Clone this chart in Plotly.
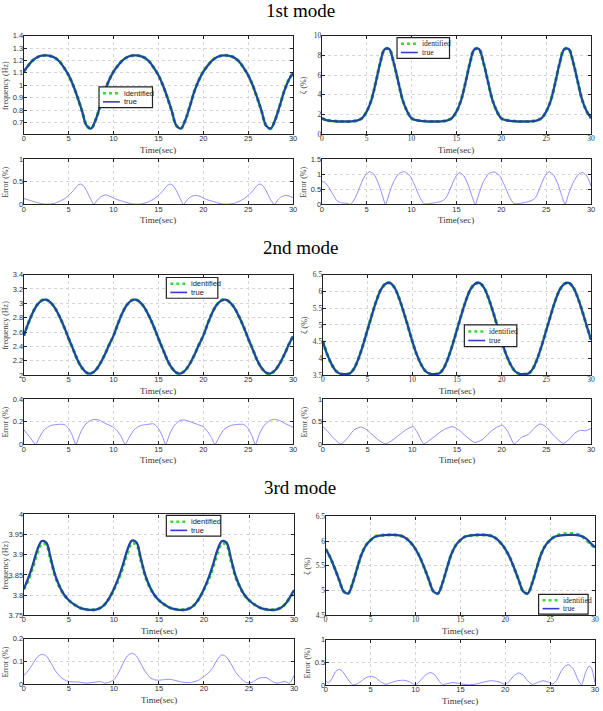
import plotly.graph_objects as go

W, H = 603, 711
TIME = [i * 0.5 for i in range(61)]

# ---------------- 1st mode ----------------
freq1_true = [1.11, 1.16, 1.20, 1.225, 1.238, 1.24, 1.235, 1.22, 1.19, 1.14,
              1.08, 1.00, 0.90, 0.79, 0.675, 0.652, 0.72, 0.83, 0.95, 1.04,
              1.11, 1.16, 1.20, 1.225, 1.238, 1.24, 1.235, 1.22, 1.19, 1.14,
              1.08, 1.00, 0.90, 0.79, 0.675, 0.652, 0.72, 0.83, 0.95, 1.04,
              1.11, 1.16, 1.20, 1.225, 1.238, 1.24, 1.235, 1.22, 1.19, 1.14,
              1.08, 1.00, 0.90, 0.79, 0.675, 0.652, 0.72, 0.83, 0.95, 1.04,
              1.10]
freq1_ident = freq1_true

zeta1_true = [1.62, 1.45, 1.37, 1.33, 1.30, 1.30, 1.30, 1.33, 1.42, 1.65,
              2.3, 3.4, 5.2, 7.2, 8.6, 8.65, 7.3, 5.4, 3.5, 2.35,
              1.62, 1.45, 1.37, 1.33, 1.30, 1.30, 1.30, 1.33, 1.42, 1.65,
              2.3, 3.4, 5.2, 7.2, 8.6, 8.65, 7.3, 5.4, 3.5, 2.35,
              1.62, 1.45, 1.37, 1.33, 1.30, 1.30, 1.30, 1.33, 1.42, 1.65,
              2.3, 3.4, 5.2, 7.2, 8.6, 8.65, 7.3, 5.4, 3.5, 2.35,
              1.65]
zeta1_ident = zeta1_true

err_f1_t = [0, 0.5, 1, 1.5, 2, 2.5, 3, 3.5, 4, 4.5, 5, 5.5, 6, 6.3, 6.6, 7, 7.4, 7.8, 8.2, 8.6, 9.1, 9.6,
            10, 10.5, 11, 11.5, 12, 12.5, 13, 13.5, 14, 14.5, 15, 15.5, 16, 16.3, 16.6, 17, 17.4, 17.8, 18.2, 18.6, 19.1, 19.6,
            20, 20.5, 21, 21.5, 22, 22.5, 23, 23.5, 24, 24.5, 25, 25.5, 26, 26.3, 26.6, 27, 27.4, 27.9, 28.3, 28.7, 29.2, 29.6, 30]
err_f1_v = [0.13, 0.10, 0.07, 0.04, 0.015, 0.005, 0.01, 0.03, 0.07, 0.12, 0.2, 0.3, 0.42, 0.45, 0.42, 0.3, 0.14, 0.0, 0.1, 0.17, 0.21, 0.18,
            0.14, 0.10, 0.07, 0.04, 0.015, 0.005, 0.01, 0.03, 0.07, 0.12, 0.2, 0.3, 0.42, 0.45, 0.42, 0.3, 0.14, 0.0, 0.1, 0.17, 0.2, 0.18,
            0.14, 0.10, 0.07, 0.04, 0.015, 0.005, 0.01, 0.03, 0.07, 0.12, 0.2, 0.3, 0.42, 0.45, 0.42, 0.3, 0.14, 0.0, 0.1, 0.17, 0.2, 0.18, 0.15]

err_z1_t = [0, 0.3, 0.7, 1.2, 1.7, 2.2, 2.8, 3.2, 3.7, 4.2, 4.7, 5.3, 5.8, 6.3, 6.7, 7.1, 7.5, 8.0, 8.6, 9.2, 9.8, 10.4, 10.9, 11.4,
            12, 12.7, 13.3, 13.8, 14.3, 14.8, 15.3, 15.8, 16.3, 16.7, 17.1, 17.5, 18.0, 18.6, 19.2, 19.8, 20.4, 20.9, 21.4,
            22, 22.7, 23.3, 23.8, 24.3, 24.8, 25.3, 25.8, 26.3, 26.7, 27.1, 27.5, 28.0, 28.6, 29.1, 29.6, 30]
err_z1_v = [0.75, 0.74, 0.6, 0.35, 0.12, 0.05, 0.04, 0.0, 0.2, 0.55, 0.9, 1.08, 1.0, 0.7, 0.35, 0.0, 0.35, 0.75, 1.02, 1.08, 0.95, 0.6, 0.25, 0.02,
            0.03, 0.06, 0.1, 0.2, 0.5, 0.85, 1.05, 0.95, 0.65, 0.3, 0.0, 0.35, 0.75, 1.02, 1.07, 0.95, 0.6, 0.25, 0.03,
            0.03, 0.07, 0.12, 0.22, 0.55, 0.9, 1.08, 0.98, 0.68, 0.32, 0.0, 0.35, 0.72, 1.0, 1.05, 0.9, 0.6]

# ---------------- 2nd mode ----------------
freq2_true = [2.55, 2.72, 2.87, 2.98, 3.04, 3.05, 3.01, 2.93, 2.81, 2.67,
              2.51, 2.36, 2.21, 2.10, 2.035, 2.025, 2.07, 2.16, 2.28, 2.42,
              2.55, 2.72, 2.87, 2.98, 3.04, 3.05, 3.01, 2.93, 2.81, 2.67,
              2.51, 2.36, 2.21, 2.10, 2.035, 2.025, 2.07, 2.16, 2.28, 2.42,
              2.55, 2.72, 2.87, 2.98, 3.04, 3.05, 3.01, 2.93, 2.81, 2.67,
              2.51, 2.36, 2.21, 2.10, 2.035, 2.025, 2.07, 2.16, 2.28, 2.42,
              2.54]
freq2_ident = freq2_true

zeta2_true = [4.52, 4.12, 3.82, 3.62, 3.54, 3.53, 3.55, 3.70, 4.0, 4.4,
              4.85, 5.3, 5.72, 6.05, 6.22, 6.25, 6.12, 5.82, 5.42, 4.98,
              4.52, 4.12, 3.82, 3.62, 3.54, 3.53, 3.55, 3.70, 4.0, 4.4,
              4.85, 5.3, 5.72, 6.05, 6.22, 6.25, 6.12, 5.82, 5.42, 4.98,
              4.52, 4.12, 3.82, 3.62, 3.54, 3.53, 3.55, 3.70, 4.0, 4.4,
              4.85, 5.3, 5.72, 6.05, 6.22, 6.25, 6.12, 5.82, 5.42, 4.98,
              4.55]
zeta2_ident = zeta2_true

err_f2_t = [0, 0.4, 0.8, 1.3, 1.8, 2.3, 3, 3.7, 4.5, 5.0, 5.4, 5.8, 6.3, 6.8, 7.4, 7.9, 8.5, 9.2, 10, 10.5, 10.9, 11.3,
            11.8, 12.3, 13, 13.7, 14.5, 15.0, 15.4, 15.8, 16.3, 16.8, 17.4, 17.9, 18.5, 19.2, 20, 20.5, 20.9, 21.3,
            21.8, 22.3, 23, 23.7, 24.5, 25.0, 25.4, 25.8, 26.3, 26.8, 27.4, 27.9, 28.5, 29.2, 30]
err_f2_v = [0.13, 0.09, 0.05, 0.0, 0.07, 0.13, 0.165, 0.175, 0.175, 0.14, 0.08, 0.0, 0.1, 0.17, 0.21, 0.22, 0.21, 0.18, 0.15, 0.11, 0.06, 0.0,
            0.07, 0.13, 0.165, 0.175, 0.18, 0.14, 0.08, 0.0, 0.1, 0.17, 0.21, 0.215, 0.2, 0.18, 0.155, 0.11, 0.06, 0.0,
            0.07, 0.13, 0.165, 0.175, 0.175, 0.14, 0.08, 0.0, 0.1, 0.17, 0.21, 0.22, 0.21, 0.18, 0.15]

err_z2_t = [0, 0.5, 1, 1.5, 2, 2.5, 3, 3.5, 4.2, 4.8, 5.5, 6.2, 7.0, 7.7, 8.5, 9.3, 10.1, 10.6, 11.3, 12, 12.8, 13.6, 14.5,
            15.2, 16, 17, 17.8, 18.6, 19.4, 20.1, 20.7, 21.4, 22.2, 23, 23.6, 24.3, 25, 25.8, 26.9, 27.6, 28.2, 28.8, 29.4, 30]
err_z2_v = [0.39, 0.3, 0.18, 0.08, 0.01, 0.08, 0.2, 0.32, 0.38, 0.34, 0.22, 0.1, 0.01, 0.08, 0.2, 0.32, 0.39, 0.25, 0.01, 0.1, 0.22, 0.33, 0.39,
            0.32, 0.18, 0.04, 0.1, 0.25, 0.37, 0.42, 0.28, 0.01, 0.15, 0.22, 0.35, 0.45, 0.38, 0.2, 0.02, 0.12, 0.25, 0.31, 0.3, 0.35]

# ---------------- 3rd mode ----------------
freq3_true = [3.815, 3.842, 3.875, 3.912, 3.934, 3.93, 3.89, 3.848, 3.82, 3.80,
              3.787, 3.778, 3.771, 3.766, 3.764, 3.763, 3.764, 3.768, 3.777, 3.793,
              3.815, 3.842, 3.875, 3.912, 3.935, 3.931, 3.89, 3.848, 3.82, 3.80,
              3.787, 3.778, 3.771, 3.766, 3.764, 3.763, 3.764, 3.768, 3.777, 3.793,
              3.815, 3.842, 3.875, 3.912, 3.934, 3.93, 3.89, 3.848, 3.82, 3.80,
              3.787, 3.778, 3.771, 3.766, 3.764, 3.763, 3.764, 3.768, 3.777, 3.793,
              3.812]
freq3_ident = [3.814, 3.838, 3.869, 3.905, 3.928, 3.925, 3.886, 3.846, 3.819, 3.80,
               3.787, 3.778, 3.771, 3.766, 3.764, 3.763, 3.764, 3.768, 3.777, 3.792,
               3.814, 3.838, 3.869, 3.905, 3.929, 3.926, 3.886, 3.846, 3.819, 3.80,
               3.787, 3.778, 3.771, 3.766, 3.764, 3.763, 3.764, 3.768, 3.777, 3.792,
               3.814, 3.838, 3.869, 3.905, 3.928, 3.925, 3.886, 3.846, 3.819, 3.80,
               3.787, 3.778, 3.771, 3.766, 3.764, 3.763, 3.764, 3.768, 3.777, 3.792,
               3.811]

zeta3_true = [5.84, 5.67, 5.45, 5.21, 4.98, 4.94, 5.15, 5.45, 5.74, 5.92,
              6.02, 6.09, 6.11, 6.12, 6.125, 6.125, 6.12, 6.10, 6.05, 5.96,
              5.84, 5.67, 5.45, 5.21, 4.98, 4.94, 5.15, 5.45, 5.74, 5.92,
              6.02, 6.09, 6.11, 6.12, 6.125, 6.125, 6.12, 6.10, 6.05, 5.96,
              5.84, 5.67, 5.45, 5.21, 4.98, 4.94, 5.15, 5.45, 5.74, 5.92,
              6.02, 6.09, 6.11, 6.12, 6.125, 6.125, 6.12, 6.10, 6.05, 5.96,
              5.87]
zeta3_ident = [5.84, 5.67, 5.45, 5.21, 4.98, 4.94, 5.15, 5.45, 5.74, 5.92,
               6.02, 6.09, 6.11, 6.12, 6.125, 6.125, 6.12, 6.10, 6.05, 5.96,
               5.84, 5.67, 5.45, 5.21, 4.98, 4.94, 5.15, 5.45, 5.74, 5.92,
               6.02, 6.09, 6.11, 6.12, 6.125, 6.125, 6.12, 6.10, 6.05, 5.96,
               5.84, 5.67, 5.45, 5.21, 4.98, 4.94, 5.15, 5.45, 5.74, 5.92,
               6.02, 6.095, 6.13, 6.145, 6.153, 6.15, 6.14, 6.10, 6.03, 5.94,
               5.87]

err_f3_t = [0, 0.5, 1, 1.5, 2, 2.5, 3, 3.5, 4, 4.5, 5, 6, 7, 8, 8.5, 9, 9.5, 10, 10.5, 11, 11.5, 12, 12.5, 13, 13.5, 14,
            14.5, 15, 15.5, 16, 16.5, 17, 17.5, 18, 18.5, 19, 19.5, 20, 20.5, 21, 21.5, 22, 22.5, 23, 23.5, 24, 24.5,
            25, 25.5, 26, 26.5, 27, 27.5, 28, 28.5, 29, 29.5, 30]
err_f3_v = [0.038, 0.06, 0.09, 0.12, 0.132, 0.125, 0.095, 0.06, 0.035, 0.02, 0.012, 0.01, 0.005, 0.01, 0.012, 0.005, 0.01, 0.02,
            0.05, 0.09, 0.125, 0.137, 0.125, 0.09, 0.055, 0.03, 0.02, 0.018, 0.02, 0.022, 0.02, 0.015, 0.01, 0.008, 0.008,
            0.012, 0.02, 0.035, 0.05, 0.075, 0.11, 0.13, 0.12, 0.09, 0.055, 0.03, 0.012, 0.005, 0.012, 0.025, 0.03, 0.028,
            0.015, 0.005, 0.008, 0.012, 0.005, 0.04]

err_z3_t = [0, 0.3, 0.7, 1.1, 1.5, 1.9, 2.4, 3.0, 3.5, 4.0, 4.5, 5.0, 5.5, 6.1, 6.7, 7.3, 8.0, 8.7, 9.3, 10.0, 10.6, 11.2,
            11.7, 12.2, 12.6, 13.0, 13.6, 14.2, 14.8, 15.4, 16.0, 16.8, 17.6, 18.4, 19.2, 20.0, 20.5, 21.0, 21.5, 22.0,
            22.5, 23.0, 23.6, 24.2, 24.8, 25.3, 25.7, 26.2, 26.7, 27.1, 27.6, 28.1, 28.5, 28.9, 29.3, 29.6, 30]
err_z3_v = [0.1, 0.05, 0.15, 0.3, 0.35, 0.3, 0.15, 0.01, 0.03, 0.1, 0.17, 0.2, 0.17, 0.08, 0.02, 0.06, 0.1, 0.11, 0.08, 0.01,
            0.12, 0.24, 0.28, 0.22, 0.1, 0.02, 0.04, 0.06, 0.04, 0.02, 0.01, 0.03, 0.07, 0.1, 0.08, 0.02, 0.1, 0.22, 0.27,
            0.22, 0.1, 0.02, 0.06, 0.1, 0.07, 0.03, 0.1, 0.3, 0.43, 0.45, 0.35, 0.12, 0.01, 0.25, 0.42, 0.38, 0.05]

TITLES = ["1st mode", "2nd mode", "3rd mode"]
LEGEND_NAMES = ["identified", "true"]
X_TICKS = [0, 5, 10, 15, 20, 25, 30]

SANS = "Liberation Sans, Arial"
SERIF = "Liberation Serif, Times New Roman"
IDENT_COLOR = "#33dd33"
TRUE_COLOR = "#1f45a0"
LEG_TRUE_COLOR = "#3a3ad0"
ERR_COLOR = "#8080ff"

panels = [
    dict(box=(22, 294, 32, 132), rng=[0.605, 1.4], ticks=[0.7, 0.8, 0.9, 1, 1.1, 1.2, 1.3, 1.4],
         title="frequency (Hz)", font=SANS, x=TIME, y=[freq1_ident, freq1_true],
         legend=(98, 84, 152, 105), lfont=SANS),
    dict(box=(22, 294, 157, 203), rng=[0, 1], ticks=[0, 0.5, 1], title="Error (%)", font=SANS,
         x=err_f1_t, y=[err_f1_v]),
    dict(box=(323, 595, 32, 132), rng=[0, 10], ticks=[0, 2, 4, 6, 8, 10], title="ζ (%)", font=SERIF,
         x=TIME, y=[zeta1_ident, zeta1_true], legend=(399, 34, 452, 55), lfont=SERIF),
    dict(box=(323, 595, 157, 203), rng=[0, 1.5], ticks=[0, 0.5, 1, 1.5], title="Error (%)", font=SANS,
         x=err_z1_t, y=[err_z1_v]),
    dict(box=(22, 294, 274, 376), rng=[2, 3.4], ticks=[2, 2.2, 2.4, 2.6, 2.8, 3, 3.2, 3.4],
         title="frequency (Hz)", font=SANS, x=TIME, y=[freq2_ident, freq2_true],
         legend=(166, 277, 218, 298), lfont=SANS),
    dict(box=(22, 294, 400, 446), rng=[0, 0.4], ticks=[0, 0.2, 0.4], title="Error (%)", font=SANS,
         x=err_f2_t, y=[err_f2_v]),
    dict(box=(324, 595, 274, 376), rng=[3.5, 6.5], ticks=[3.5, 4, 4.5, 5, 5.5, 6, 6.5], title="ζ (%)", font=SERIF,
         x=TIME, y=[zeta2_ident, zeta2_true], legend=(467, 325, 520, 347), lfont=SERIF),
    dict(box=(324, 595, 400, 446), rng=[0, 1], ticks=[0, 0.5, 1], title="Error (%)", font=SANS,
         x=err_z2_t, y=[err_z2_v]),
    dict(box=(22, 295, 517, 619), rng=[3.75, 4.0], ticks=[3.75, 3.8, 3.85, 3.9, 3.95, 4],
         title="frequency (Hz)", font=SANS, x=TIME, y=[freq3_ident, freq3_true],
         legend=(166, 518, 221, 539), lfont=SANS),
    dict(box=(22, 295, 643, 689), rng=[0, 0.2], ticks=[0, 0.1, 0.2], title="Error (%)", font=SANS,
         x=err_f3_t, y=[err_f3_v]),
    dict(box=(327, 599, 519, 619), rng=[4.5, 6.5], ticks=[4.5, 5, 5.5, 6, 6.5], title="ζ (%)", font=SERIF,
         x=TIME, y=[zeta3_ident, zeta3_true], legend=(542, 598, 592, 618), lfont=SERIF),
    dict(box=(327, 599, 644, 690), rng=[0, 1], ticks=[0, 0.5, 1], title="Error (%)", font=SANS,
         x=err_z3_t, y=[err_z3_v]),
]

fig = go.Figure()
layout = dict(width=W, height=H, margin=dict(l=0, r=0, t=0, b=0),
              paper_bgcolor="white", plot_bgcolor="white", showlegend=False)
annotations = []
shapes = []


def fx(px):
    return px / W


def fy(py):
    return 1 - py / H


for i, p in enumerate(panels):
    n = i + 1
    xa = "x" if n == 1 else f"x{n}"
    ya = "y" if n == 1 else f"y{n}"
    x0, x1, y0, y1 = p["box"]
    axis_common = dict(showline=True, linecolor="#222", linewidth=1.3, mirror="ticks",
                       ticks="inside", ticklen=3, tickcolor="#222", showgrid=True,
                       gridcolor="#d6d6d6", griddash="dot", gridwidth=1, zeroline=False,
                       tickfont=dict(size=7.5, family=p["font"], color="#333"))
    layout["xaxis" if n == 1 else f"xaxis{n}"] = dict(
        domain=[fx(x0), fx(x1)], range=[0, 30], tickvals=X_TICKS, anchor=ya,
        ticklabelstandoff=-3, **axis_common)
    layout["yaxis" if n == 1 else f"yaxis{n}"] = dict(
        domain=[fy(y1), fy(y0)], range=p["rng"], tickvals=p["ticks"], anchor=xa,
        ticklabelstandoff=-2, **axis_common)

    if len(p["y"]) == 2:
        fig.add_trace(go.Scatter(x=p["x"], y=p["y"][0], mode="lines", name=LEGEND_NAMES[0],
                                 line=dict(color=IDENT_COLOR, width=3.2, dash="dot", shape="spline"),
                                 xaxis=xa, yaxis=ya))
        fig.add_trace(go.Scatter(x=p["x"], y=p["y"][1], mode="lines", name=LEGEND_NAMES[1],
                                 line=dict(color=TRUE_COLOR, width=2.3, shape="spline"),
                                 xaxis=xa, yaxis=ya))
        # MATLAB-style compact legend box
        lx0, ly0, lx1, ly1 = p["legend"]
        shapes.append(dict(type="rect", xref="paper", yref="paper", x0=fx(lx0), x1=fx(lx1),
                           y0=fy(ly1), y1=fy(ly0), line=dict(color="#222", width=1.2),
                           fillcolor="white", layer="above"))
        rows = [ly0 + (ly1 - ly0) * 0.3, ly0 + (ly1 - ly0) * 0.72]
        styles = [dict(color=IDENT_COLOR, width=2.5, dash="dot"), dict(color=LEG_TRUE_COLOR, width=1.6)]
        for name, ry, st in zip(LEGEND_NAMES, rows, styles):
            shapes.append(dict(type="line", xref="paper", yref="paper", x0=fx(lx0 + 4), x1=fx(lx0 + 21),
                               y0=fy(ry), y1=fy(ry), line=st, layer="above"))
            annotations.append(dict(text=name, x=fx(lx0 + 23), y=fy(ry), xref="paper", yref="paper",
                                    xanchor="left", yanchor="middle", showarrow=False,
                                    font=dict(size=7.5, family=p["lfont"], color="#222")))
    else:
        fig.add_trace(go.Scatter(x=p["x"], y=p["y"][0], mode="lines", showlegend=False,
                                 line=dict(color=ERR_COLOR, width=0.9, shape="spline", smoothing=0.6),
                                 xaxis=xa, yaxis=ya))

    annotations.append(dict(text="Time(sec)", x=fx((x0 + x1) / 2), y=fy(y1 + 16), xref="paper", yref="paper",
                            xanchor="center", yanchor="middle", showarrow=False,
                            font=dict(size=9, family=SERIF, color="#333")))
    annotations.append(dict(text=p["title"], x=fx(x0 - 18), y=fy((y0 + y1) / 2), xref="paper", yref="paper",
                            xanchor="center", yanchor="middle", showarrow=False, textangle=-90,
                            font=dict(size=8, family=SERIF, color="#444")))

for title, ty in zip(TITLES, [7, 247, 490]):
    annotations.append(dict(text=title, x=fx(301), y=fy(ty), xref="paper", yref="paper",
                            xanchor="center", yanchor="middle", showarrow=False,
                            font=dict(size=19, family=SERIF, color="black")))

layout["annotations"] = annotations
layout["shapes"] = shapes
fig.update_layout(**layout)
fig.write_html("out.html")
